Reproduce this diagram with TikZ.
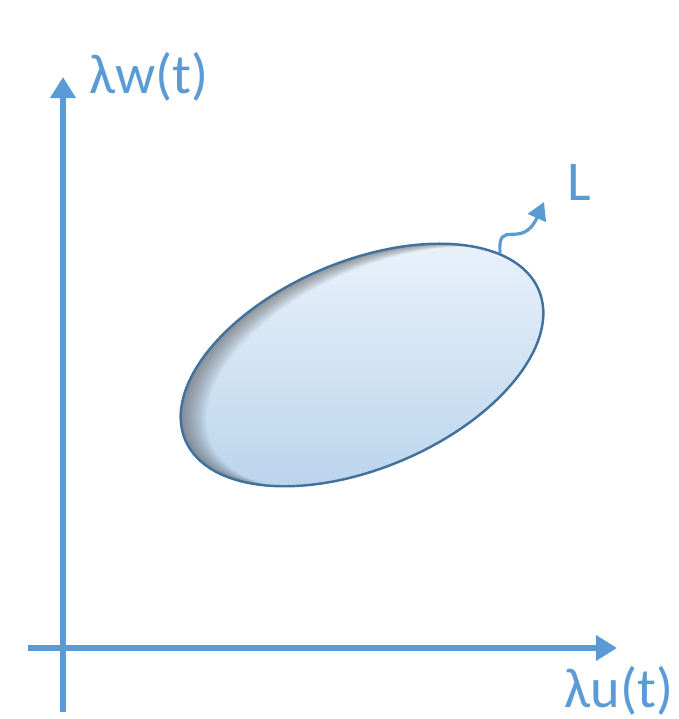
\documentclass[tikz,border=0pt]{standalone}
\usepackage{fontspec}
\setmainfont{Carlito}
\usetikzlibrary{arrows.meta,shapes.geometric}
\definecolor{axisblue}{HTML}{5B9BD5}
\definecolor{rim}{HTML}{41719C}
\definecolor{blobtop}{HTML}{F3F8FD}
\definecolor{blobbot}{HTML}{B0CEEA}
\newcommand{\axisline}[2]{\draw[axis] (#1) -- (#2)}
\newcommand{\lab}[3]{\node[lab] (#1) at (#2) {#3}}
\tikzset{
  axis/.style={axisblue, line width=1.8pt, -{Triangle[length=6pt,width=7pt]}},
  lab/.style={text=axisblue, font=\fontsize{16}{19}\selectfont, inner sep=0pt},
  blob/.style={ellipse, draw=rim, line width=0.7pt, rotate=23,
    minimum width=3.84cm, minimum height=2.07cm, inner sep=0pt}
}

\begin{document}
\begin{tikzpicture}
\useasboundingbox (0,0) rectangle (6.79,7.19);
%Axes
	\coordinate (ybot) at (0.63,0.07);
	\coordinate (ytop) at (0.63,6.42);
	\coordinate (xleft) at (0.28,0.71);
	\coordinate (xright) at (6.17,0.71);
	\axisline{ybot}{ytop};
	\axisline{xleft}{xright};
%Labels
	\lab{wlabel}{1.49,6.42}{λw(t)};
	\lab{ulabel}{6.19,0.28}{λu(t)};
	\lab{Llabel}{5.79,5.37}{L};
%The region, shading and inner shadow
	\begin{scope}[shift={(3.62,3.54)}, rotate=23]
		\clip (0,0) ellipse (1.92 and 1.035);
		\shade[top color=blobtop, bottom color=blobbot] (-2,-1.1) rectangle (2,1.1);
		\foreach \i in {1,...,16}
			\fill[black!70, opacity=0.045, even odd rule] (-3,-3) rectangle (3,3)
				(\i*0.014,-\i*0.008) ellipse (1.92 and 1.035);
	\end{scope}
	\node[blob] (region) at (3.62,3.54) {};
%The arrow towards L
	\coordinate (Ltip) at (5.44,5.17);
	\draw[axisblue, line width=0.9pt, -{Triangle[length=5pt,width=5.5pt]}]
		(region.16) .. controls (4.97,5.02) and (5.22,4.68) .. (Ltip);
\end{tikzpicture}
\end{document}
